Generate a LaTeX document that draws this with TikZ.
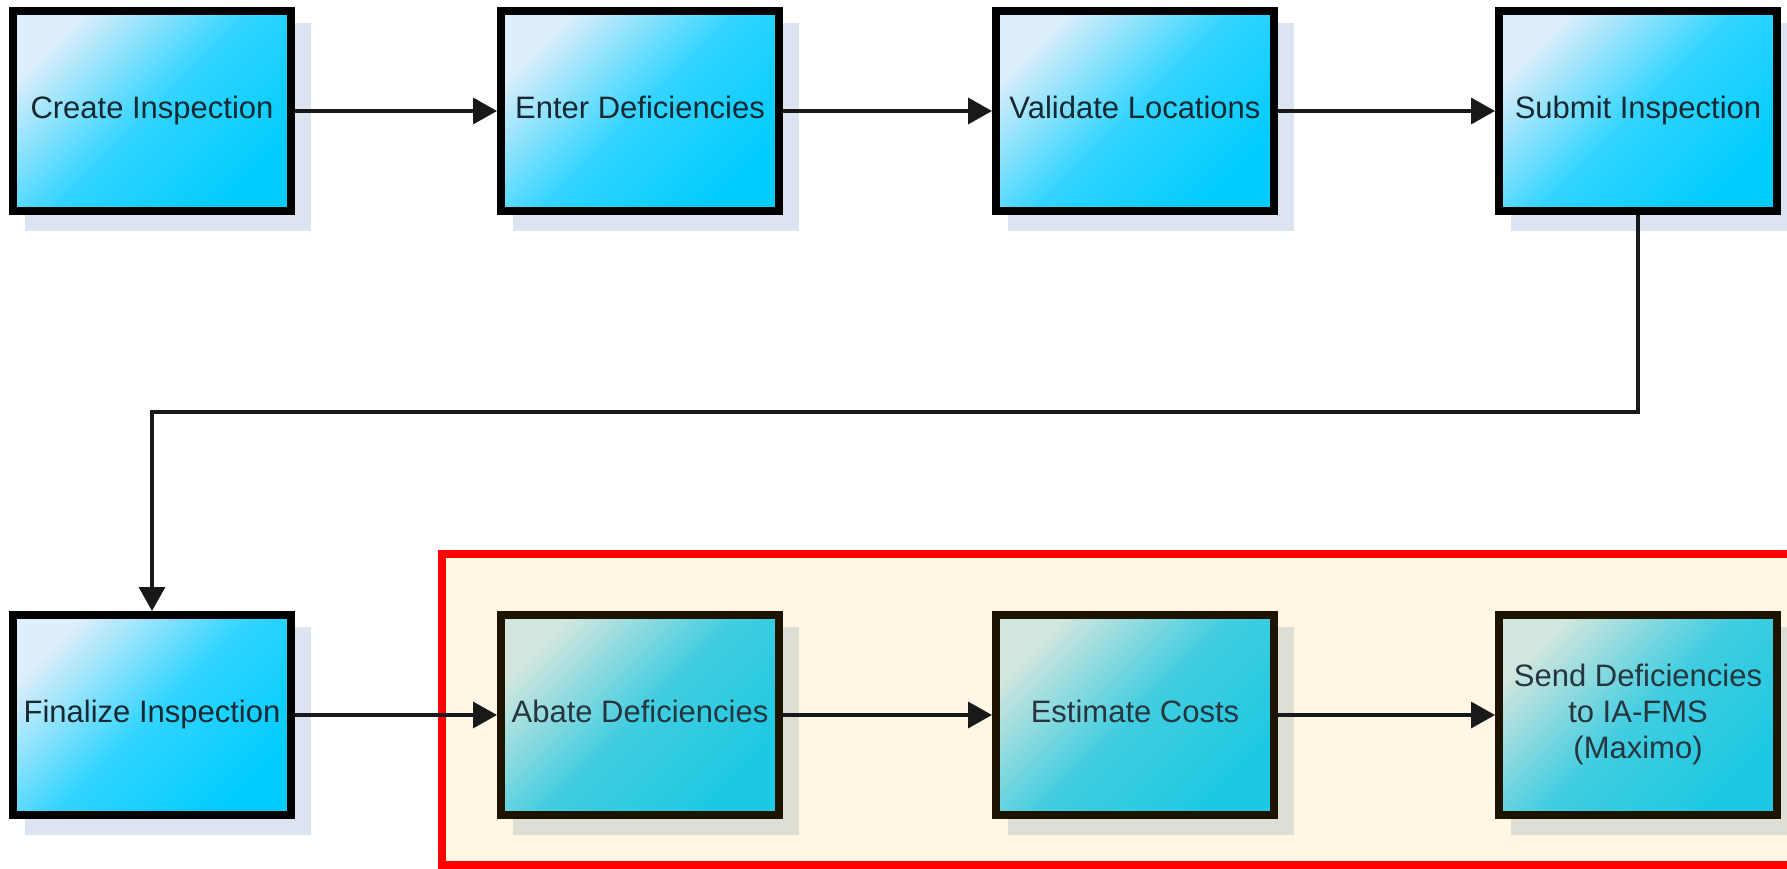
\documentclass[tikz,border=0pt]{standalone}
\usepackage{fontspec}
\setmainfont{Liberation Sans}
\usetikzlibrary{arrows.meta,shadows,positioning}

\definecolor{boxlight}{RGB}{222,238,250}
\definecolor{boxcyan}{RGB}{0,204,255}
\definecolor{boxmid}{RGB}{50,212,255}
\definecolor{zonelight}{RGB}{210,230,222}
\definecolor{zonecyan}{RGB}{28,200,226}
\definecolor{zonemid}{RGB}{65,205,224}
\definecolor{shadetop}{RGB}{220,228,242}
\definecolor{shadezone}{RGB}{222,222,212}
\definecolor{zonefill}{RGB}{255,247,228}
\definecolor{zoneline}{RGB}{255,0,0}
\definecolor{zoneborder}{RGB}{28,20,0}
\definecolor{labeltext}{RGB}{22,40,50}

\tikzset{
    stepbox/.style={draw=black, line width=8pt, minimum width=278pt, minimum height=200pt,
        top color=boxlight, bottom color=boxcyan, middle color=boxmid, shading angle=45,
        align=center, text=labeltext, font=\fontsize{31pt}{36pt}\selectfont,
        execute at begin node={\rule[-8pt]{0pt}{30pt}},
        drop shadow={shadow xshift=16pt, shadow yshift=-16pt, opacity=1, fill=shadetop, draw=shadetop}},
    zonebox/.style={stepbox, draw=zoneborder,
        top color=zonelight, bottom color=zonecyan, middle color=zonemid, shading angle=45,
        text=labeltext!85!gray,
        drop shadow={shadow xshift=16pt, shadow yshift=-16pt, opacity=1, fill=shadezone, draw=shadezone}},
    flow/.style={-{Triangle[length=24pt,width=26pt]}, line width=3.5pt, draw=black!90},
}

\begin{document}
\begin{tikzpicture}[x=1pt, y=-1pt]
    \clip (0,0) rectangle (1787,869);
    \fill[white] (0,0) rectangle (1787,869);

    % area of the last three steps
    \draw[zoneline, line width=8pt, fill=zonefill] (442,554) rectangle (1800,865);

    \node[stepbox] (create) at (152,111) {Create Inspection};
    \node[stepbox] (enter) at (640,111) {Enter Deficiencies};
    \node[stepbox] (validate) at (1135,111) {Validate Locations};
    \node[stepbox] (submit) at (1638,111) {Submit Inspection};

    \node[stepbox] (finalize) at (152,715) {Finalize Inspection};
    \node[zonebox] (abate) at (640,715) {Abate Deficiencies};
    \node[zonebox] (estimate) at (1135,715) {Estimate Costs};
    \node[zonebox, execute at begin node={}] (send) at (1638,715) {Send Deficiencies\\to IA-FMS\\(Maximo)};

    \foreach \a/\b in {create/enter, enter/validate, validate/submit,
                       finalize/abate, abate/estimate, estimate/send} {
        \draw[flow] (\a) -- (\b);
    }
    \draw[flow] (submit.south) -- ++(0,197) -| (finalize.north);
\end{tikzpicture}
\end{document}
